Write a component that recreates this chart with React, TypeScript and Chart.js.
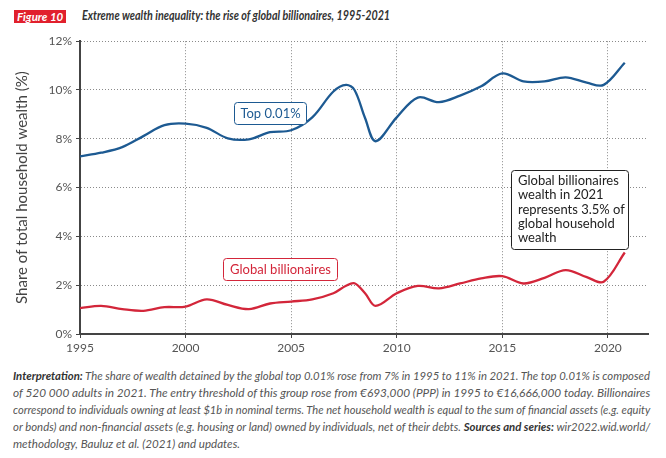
import React, { useEffect, useLayoutEffect, useRef } from "react";
import { Chart, registerables } from "chart.js";

Chart.register(...registerables);

// ---- data ----
const years = [
  1995, 1996, 1997, 1998, 1999, 2000, 2001, 2002, 2003, 2004, 2005, 2006, 2007,
  2007.6, 2008, 2008.5, 2009, 2010, 2011, 2012, 2013, 2014, 2015, 2016, 2017,
  2018, 2019, 2019.8, 2020.8,
];
const top001 = [
  7.28, 7.43, 7.66, 8.11, 8.56, 8.62, 8.45, 8.02, 7.98, 8.27, 8.35, 8.88, 9.94,
  10.21, 10.0, 8.85, 7.9, 8.88, 9.69, 9.5, 9.77, 10.15, 10.68, 10.35, 10.35,
  10.52, 10.3, 10.21, 11.12,
];
const billionaires = [
  1.06, 1.15, 1.02, 0.95, 1.1, 1.12, 1.42, 1.19, 1.02, 1.25, 1.33, 1.42, 1.67,
  1.98, 2.08, 1.67, 1.15, 1.67, 1.97, 1.87, 2.07, 2.28, 2.37, 2.07, 2.3, 2.62,
  2.33, 2.14, 3.34,
];
const xTicks = [1995, 2000, 2005, 2010, 2015, 2020];
const yTicks = [0, 2, 4, 6, 8, 10, 12];

const seriesLabels = ["Top 0.01%", "Global billionaires"];
const noteLines = [
  "Global billionaires",
  "wealth in 2021",
  "represents 3.5% of",
  "global household",
  "wealth",
];
const figureLabel = "Figure 10";
const titleText =
  "Extreme wealth inequality: the rise of global billionaires, 1995-2021";
const yTitle = "Share of total household wealth (%)";

const BLUE = "#1d5a92";
const RED = "#d3263a";
const FONT = "Lato, 'Open Sans', sans-serif";

function FitText(props: {
  width: number;
  style?: React.CSSProperties;
  children: React.ReactNode;
}) {
  const ref = useRef<HTMLSpanElement>(null);
  useLayoutEffect(() => {
    const el = ref.current;
    if (!el) return;
    el.style.transform = "none";
    const w = el.offsetWidth;
    if (w > 0) el.style.transform = `scaleX(${props.width / w})`;
  });
  return (
    <span
      ref={ref}
      style={{
        display: "inline-block",
        whiteSpace: "nowrap",
        transformOrigin: "left center",
        ...props.style,
      }}
    >
      {props.children}
    </span>
  );
}

export default function App() {
  const canvasRef = useRef<HTMLCanvasElement>(null);

  useEffect(() => {
    const canvas = canvasRef.current;
    if (!canvas) return;
    const OFF = 30; // canvas top offset on page

    const roundRect = (
      ctx: CanvasRenderingContext2D,
      x: number,
      y: number,
      w: number,
      h: number,
      r: number
    ) => {
      ctx.beginPath();
      ctx.moveTo(x + r, y);
      ctx.lineTo(x + w - r, y);
      ctx.quadraticCurveTo(x + w, y, x + w, y + r);
      ctx.lineTo(x + w, y + h - r);
      ctx.quadraticCurveTo(x + w, y + h, x + w - r, y + h);
      ctx.lineTo(x + r, y + h);
      ctx.quadraticCurveTo(x, y + h, x, y + h - r);
      ctx.lineTo(x, y + r);
      ctx.quadraticCurveTo(x, y, x + r, y);
      ctx.closePath();
    };

    const annot = {
      id: "annot",
      afterDraw(chart: any) {
        const ctx = chart.ctx as CanvasRenderingContext2D;
        ctx.save();
        ctx.font = `13px ${FONT}`;
        ctx.textBaseline = "middle";
        ctx.textAlign = "center";
        // Top 0.01% box
        roundRect(ctx, 234.5, 102.5 - OFF, 72, 22, 3);
        ctx.fillStyle = "#fff";
        ctx.fill();
        ctx.lineWidth = 1;
        ctx.strokeStyle = BLUE;
        ctx.stroke();
        ctx.fillStyle = BLUE;
        ctx.fillText(seriesLabels[0], 270.5, 114 - OFF);
        // Global billionaires box
        roundRect(ctx, 223.5, 258.5 - OFF, 114, 22, 3);
        ctx.fillStyle = "#fff";
        ctx.fill();
        ctx.strokeStyle = RED;
        ctx.stroke();
        ctx.fillStyle = RED;
        ctx.fillText(seriesLabels[1], 280.5, 270 - OFF);
        // note box
        roundRect(ctx, 511.5, 170.5 - OFF, 117, 79, 3);
        ctx.fillStyle = "#fff";
        ctx.fill();
        ctx.strokeStyle = "#222";
        ctx.stroke();
        ctx.fillStyle = "#222";
        ctx.textAlign = "left";
        noteLines.forEach((t, i) => {
          ctx.fillText(t, 518, 181 + i * 14.2 - OFF);
        });
        ctx.restore();
      },
    };

    const chart = new Chart(canvas, {
      type: "line",
      data: {
        datasets: [
          {
            label: seriesLabels[0],
            data: years.map((x, i) => ({ x, y: top001[i] })),
            borderColor: BLUE,
            borderWidth: 2.3,
            pointRadius: 0,
            tension: 0.35,
            fill: false,
          },
          {
            label: seriesLabels[1],
            data: years.map((x, i) => ({ x, y: billionaires[i] })),
            borderColor: RED,
            borderWidth: 2.3,
            pointRadius: 0,
            tension: 0.35,
            fill: false,
          },
        ],
      },
      options: {
        animation: false,
        responsive: false,
        maintainAspectRatio: false,
        layout: { padding: { top: 9, right: 18, bottom: 0, left: 0 } },
        plugins: {
          legend: { display: false },
          tooltip: { enabled: false },
        },
        scales: {
          x: {
            type: "linear",
            min: 1995,
            max: 2021.9,
            afterBuildTicks: (s: any) => {
              s.ticks = xTicks.map((v) => ({ value: v }));
            },
            afterFit: (s: any) => {
              s.height = 31;
            },
            ticks: {
              callback: (v: any) => String(v),
              color: "#555",
              font: { family: FONT, size: 12 },
              padding: 3,
              maxRotation: 0,
              autoSkip: false,
            },
            grid: {
              color: "#8a8a8a",
              lineWidth: 1,
              tickColor: "#444",
              tickLength: 4,
              tickWidth: 1,
              tickBorderDash: [],
            },
            border: { color: "#444", width: 2, dash: [1, 2] },
          },
          y: {
            min: 0,
            max: 12,
            afterBuildTicks: (s: any) => {
              s.ticks = yTicks.map((v) => ({ value: v }));
            },
            afterFit: (s: any) => {
              s.width = 80;
            },
            ticks: {
              callback: (v: any) => v + "%",
              color: "#555",
              font: { family: FONT, size: 12 },
              padding: 4,
            },
            grid: {
              color: "#8a8a8a",
              lineWidth: 1,
              tickColor: "#444",
              tickLength: 4,
              tickWidth: 1,
              tickBorderDash: [],
            },
            border: { color: "#444", width: 2, dash: [1, 2] },
            title: {
              display: true,
              text: yTitle,
              color: "#444",
              font: { family: FONT, size: 15 },
              padding: { top: 13, bottom: 0 },
            },
          },
        },
      } as any,
      plugins: [annot],
    });
    return () => chart.destroy();
  }, []);

  return (
    <div
      style={{
        position: "absolute",
        left: 0,
        top: 0,
        width: 666,
        height: 458,
        background: "#fff",
        fontFamily: FONT,
        overflow: "hidden",
      }}
    >
      <div
        style={{
          position: "absolute",
          left: 14,
          top: 10,
          width: 52,
          height: 13,
          background: "#e1202d",
          color: "#fff",
          fontSize: 12,
          lineHeight: "13px",
          fontStyle: "italic",
          fontWeight: 700,
          textAlign: "left",
        }}
      >
        <div style={{ position: "absolute", left: 3, top: 0 }}>
          <FitText width={46}>{figureLabel}</FitText>
        </div>
      </div>
      <div
        style={{
          position: "absolute",
          left: 82,
          top: 8,
          color: "#333",
          fontSize: 12.5,
          lineHeight: "16px",
          fontStyle: "italic",
          fontWeight: 700,
        }}
      >
        <FitText width={308}>{titleText}</FitText>
      </div>
      <canvas
        ref={canvasRef}
        width={666}
        height={335}
        style={{ position: "absolute", left: 0, top: 30, width: 666, height: 335 }}
      />
      <div
        style={{
          position: "absolute",
          left: 13,
          top: 367,
          color: "#555",
          fontSize: 12,
          lineHeight: "17px",
          fontStyle: "italic",
        }}
      >
        <div>
          <FitText width={637}>
            <b style={{ color: "#333" }}>Interpretation:</b> The share of wealth
            detained by the global top 0.01% rose from 7% in 1995 to 11% in 2021.
            The top 0.01% is composed
          </FitText>
        </div>
        <div>
          <FitText width={637}>
            of 520 000 adults in 2021. The entry threshold of this group rose from
            €693,000 (PPP) in 1995 to €16,666,000 today. Billionaires
          </FitText>
        </div>
        <div>
          <FitText width={637}>
            correspond to individuals owning at least $1b in nominal terms. The net
            household wealth is equal to the sum of financial assets (e.g. equity
          </FitText>
        </div>
        <div>
          <FitText width={637}>
            or bonds) and non-financial assets (e.g. housing or land) owned by
            individuals, net of their debts.{" "}
            <b style={{ color: "#333" }}>Sources and series:</b>{" "}
            wir2022.wid.world/
          </FitText>
        </div>
        <div>
          <FitText width={227}>
            methodology, Bauluz et al. (2021) and updates.
          </FitText>
        </div>
      </div>
    </div>
  );
}
